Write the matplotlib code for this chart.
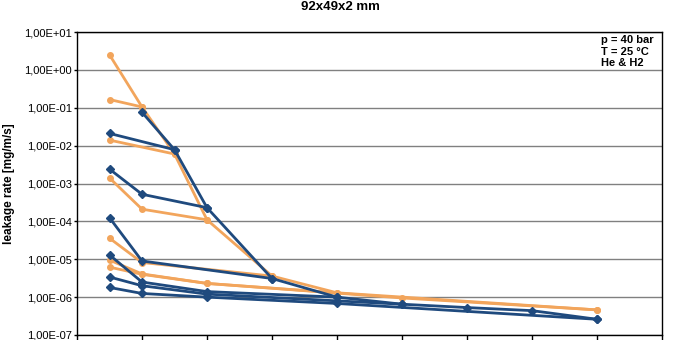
import matplotlib
matplotlib.use("Agg")
import matplotlib.pyplot as plt
from matplotlib.ticker import FuncFormatter, FixedLocator

plt.rcParams['font.family'] = ['Liberation Sans', 'DejaVu Sans']

title = "92x49x2 mm"
ylabel = "leakage rate [mg/m/s]"
note = "p = 40 bar\nT = 25 °C\nHe & H2"

# Orange series (x = gasket stress steps, y = leakage rate)
orange_x = [
    [5, 10, 15, 20, 30, 40, 80],
    [10, 5],
    [15, 5],
    [20, 10, 5],
    [30, 10, 5],
    [40, 20, 10, 5],
    [80, 50, 20, 10, 5],
]
orange_y = [
    [2.5, 0.105, 6.0e-3, 1.1e-4, 3.6e-6, 1.3e-6, 4.6e-7],
    [0.105, 0.165],
    [6.0e-3, 1.4e-2],
    [1.1e-4, 2.1e-4, 1.4e-3],
    [3.6e-6, 8.2e-6, 3.6e-5],
    [1.3e-6, 2.3e-6, 4.1e-6, 9.5e-6],
    [4.6e-7, 9.5e-7, 2.3e-6, 4.0e-6, 6.2e-6],
]

# Blue series
blue_x = [
    [10, 15, 20, 30, 40, 50, 60, 70, 80],
    [15, 5],
    [20, 10, 5],
    [30, 10, 5],
    [40, 20, 10, 5],
    [50, 20, 10, 5],
    [80, 40, 20, 10, 5],
]
blue_y = [
    [7.6e-2, 7.8e-3, 2.3e-4, 3.1e-6, 1.0e-6, 6.5e-7, 5.3e-7, 4.4e-7, 2.6e-7],
    [7.8e-3, 2.1e-2],
    [2.3e-4, 5.2e-4, 2.4e-3],
    [3.1e-6, 9.0e-6, 1.25e-4],
    [1.0e-6, 1.4e-6, 2.5e-6, 1.3e-5],
    [6.5e-7, 1.2e-6, 2.0e-6, 3.4e-6],
    [2.6e-7, 6.8e-7, 1.0e-6, 1.25e-6, 1.8e-6],
]

ORANGE = '#F2A55C'
BLUE = '#1F4A7E'

fig = plt.figure(figsize=(6.8, 3.4), dpi=100)
ax = fig.add_axes([77/680, 1-335/340, (662-77)/680, (335-32)/340])

for xs, ys in zip(orange_x, orange_y):
    ax.plot(xs, ys, color=ORANGE, lw=2, marker='o', ms=4, zorder=3)
for xs, ys in zip(blue_x, blue_y):
    ax.plot(xs, ys, color=BLUE, lw=2, marker='D', ms=4.5, zorder=4)

ax.set_yscale('log')
ax.set_ylim(1e-7, 1e1)
ax.set_xlim(0, 90)
ax.yaxis.set_major_locator(FixedLocator([10.0**k for k in range(-7, 2)]))
ax.yaxis.set_minor_locator(FixedLocator([]))
ax.yaxis.set_major_formatter(FuncFormatter(lambda v, p: f"{v:.2E}".replace('.', ',')))
ax.set_xticks(range(0, 91, 10))
ax.set_xticklabels([])
ax.tick_params(axis='x', direction='out', length=4, width=1, colors='black')
ax.tick_params(axis='y', direction='out', length=2, width=1, pad=1.5,
               labelsize=8, colors='black')
ax.grid(axis='y', color='#808080', lw=1)
ax.set_axisbelow(True)
for s in ax.spines.values():
    s.set_color('black')
    s.set_linewidth(1)

ax.set_ylabel(ylabel, fontsize=8.5, fontweight='bold', labelpad=7)
fig.text(0.5, 1 - 0.5/340, title, ha='center', va='top', fontsize=9.5, fontweight='bold')
ax.text((601-77)/585, 0.99, note, transform=ax.transAxes, ha='left', va='top',
        fontsize=8, fontweight='bold', linespacing=1.2)

fig.savefig('out.png', dpi=100)
